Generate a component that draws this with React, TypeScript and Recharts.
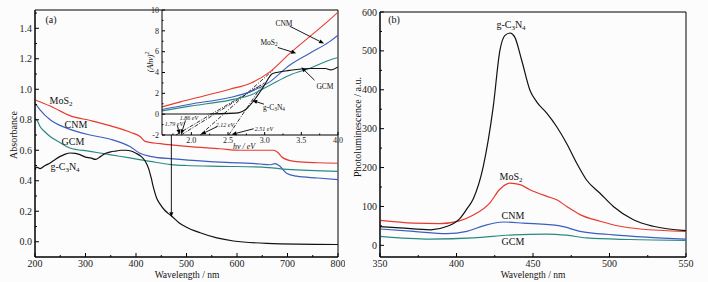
import React from 'react';
import { LineChart, Line, XAxis, YAxis, ReferenceLine, ReferenceArea } from 'recharts';

// ---- (a) UV-vis absorbance ----
const mos2Wl = [200, 230, 270, 310, 350, 390, 408, 418, 448, 500, 566, 606, 646, 672, 681, 691, 718, 760, 800];
const mos2Abs = [0.93, 0.89, 0.826, 0.795, 0.76, 0.717, 0.69, 0.658, 0.643, 0.625, 0.61, 0.6, 0.6, 0.6, 0.585, 0.55, 0.525, 0.518, 0.515];

const cnmWl = [200, 210, 230, 263, 309, 348, 388, 408, 428, 474, 540, 606, 646, 665, 675, 685, 698, 718, 760, 800];
const cnmAbs = [0.91, 0.865, 0.8, 0.745, 0.7, 0.674, 0.625, 0.58, 0.56, 0.543, 0.527, 0.517, 0.51, 0.505, 0.512, 0.495, 0.45, 0.43, 0.418, 0.407];

const gcmWl = [200, 205, 210, 220, 230, 250, 269, 309, 348, 388, 428, 470, 500, 566, 650, 700, 800];
const gcmAbs = [0.81, 0.79, 0.756, 0.72, 0.69, 0.65, 0.615, 0.593, 0.571, 0.55, 0.527, 0.506, 0.5, 0.495, 0.49, 0.475, 0.462];

const gcnWl = [200, 203, 210, 220, 230, 240, 250, 260, 270, 280, 290, 300, 310, 320, 330, 340, 350, 360, 370, 380, 390, 400, 410, 418, 425, 430, 435, 441, 448, 456, 463, 471, 485, 500, 527, 560, 593, 659, 800];
const gcnAbs = [0.47, 0.49, 0.48, 0.5, 0.517, 0.54, 0.56, 0.575, 0.582, 0.58, 0.57, 0.555, 0.55, 0.54, 0.56, 0.58, 0.59, 0.595, 0.6, 0.6, 0.595, 0.58, 0.56, 0.53, 0.48, 0.42, 0.35, 0.285, 0.245, 0.21, 0.188, 0.167, 0.125, 0.095, 0.059, 0.025, 0.005, -0.01, -0.018];

// ---- inset: (Ahv)^2 vs hv ----
const mos2Ev = [1.6, 1.85, 2.21, 2.525, 2.8, 3.07, 3.34, 3.61, 3.88, 4.0];
const mos2Tauc = [0.7, 1.18, 1.82, 2.4, 2.95, 4.06, 5.82, 7.42, 9.02, 9.8];
const cnmEv = [1.6, 1.98, 2.525, 2.8, 3.07, 3.34, 3.61, 3.88, 4.0];
const cnmTauc = [0.45, 0.96, 1.6, 2.14, 3.1, 4.7, 5.83, 6.94, 7.58];
const gcmEv = [1.6, 1.98, 2.525, 2.8, 3.07, 3.34, 3.61, 3.88, 4.0];
const gcmTauc = [0.32, 0.77, 1.35, 1.82, 2.78, 3.74, 4.39, 5.18, 5.44];
const gcnEv = [1.6, 2.2, 2.6, 2.75, 2.89, 2.98, 3.11, 3.34, 3.61, 3.83, 3.9, 4.0];
const gcnTauc = [0.02, 0.02, 0.1, 0.5, 1.66, 2.6, 3.9, 4.2, 4.39, 4.39, 4.25, 4.54];

// tangent extrapolations [x1, y1, x2, y2]
const tangents = [
  [1.79, -2, 2.95, 2.8],
  [1.86, -2, 3.0, 3.0],
  [2.12, -2, 3.11, 4.2],
  [2.51, -2, 2.95, 2.6],
];
// annotation arrows in inset [x1, y1, x2, y2]
const insetArrows = [
  [3.34, 8.45, 3.81, 6.78],
  [3.18, 6.4, 3.43, 5.85],
  [3.68, 3.26, 3.5, 4.5],
  [2.99, 0.96, 2.83, 1.32],
  [1.81, -1.1, 1.84, -1.95],
  [1.92, -0.6, 1.86, -1.95],
  [2.35, -1.2, 2.13, -1.95],
  [2.85, -1.4, 2.55, -1.95],
];
const gapLabels = ['1.79 eV', '1.86 eV', '2.12 eV', '2.51 eV'];

// ---- (b) photoluminescence ----
const gcnPlWl = [350, 363, 383, 394, 402, 407, 411, 417.5, 424, 428.4, 431.7, 435, 438, 442.6, 448, 452.4, 459, 465.5, 472, 478.6, 485, 493.8, 502.5, 515.6, 528.6, 550];
const gcnPl = [48, 45, 40, 49, 68, 95, 120, 203, 356, 502, 540, 546, 536, 476, 399, 369, 340, 305, 262, 211, 168, 134, 100, 66, 49, 38];
const mos2PlWl = [350, 372, 389, 402, 411, 422, 428, 435, 441.5, 448, 459, 465.5, 472, 480.7, 493.8, 507, 520, 550];
const mos2Pl = [64, 57, 56, 63, 78, 110, 143, 160, 156, 143, 126, 117, 100, 79, 62, 49, 42, 36];
const cnmPlWl = [350, 372, 393.6, 406.7, 417.5, 430.6, 443.7, 467.6, 480.7, 502.5, 524, 550];
const cnmPl = [42, 36, 30, 36, 50, 60, 57, 50, 36, 27, 21, 16];
const gcmPlWl = [350, 382.7, 411, 437, 459, 472, 485, 513, 550];
const gcmPl = [23, 16, 19, 27, 29, 26, 19, 15, 13];

// ticks
const absXTicks = [200, 250, 300, 350, 400, 450, 500, 550, 600, 650, 700, 750, 800];
const absXMajor = [200, 300, 400, 500, 600, 700, 800];
const absYTicks = [0, 0.1, 0.2, 0.3, 0.4, 0.5, 0.6, 0.7, 0.8, 0.9, 1.0, 1.1, 1.2, 1.3, 1.4, 1.5];
const absYMajor = [0, 0.2, 0.4, 0.6, 0.8, 1.0, 1.2, 1.4];
const insXTicks = [1.75, 2.0, 2.25, 2.5, 2.75, 3.0, 3.25, 3.5, 3.75, 4.0];
const insXMajor = [2.0, 2.5, 3.0, 3.5, 4.0];
const insYTicks = [-2, -1, 0, 1, 2, 3, 4, 5, 6, 7, 8, 9, 10];
const insYMajor = [-2, 0, 2, 4, 6, 8, 10];
const plXTicks = [350, 375, 400, 425, 450, 475, 500, 525, 550];
const plXMajor = [350, 400, 450, 500, 550];
const plYTicks = [0, 50, 100, 150, 200, 250, 300, 350, 400, 450, 500, 550, 600];
const plYMajor = [0, 100, 200, 300, 400, 500, 600];

const RED = '#e8392f';
const BLUE = '#3b5fbd';
const TEAL = '#2a8a80';
const BLACK = '#111';
const FONT = '"Liberation Serif", "DejaVu Serif", serif';

const pts = (xs: number[], ys: number[]) => xs.map((x, i) => ({ x, y: ys[i] }));

const isIn = (arr: number[], v: number) => arr.some((m) => Math.abs(m - v) < 1e-9);

const bottomTick = (majors: number[], fmt: (v: number) => string, size: number, len: number) => (p: any) => {
  const v = p.payload.value;
  const major = isIn(majors, v);
  return (
    <g>
      <line x1={p.x} y1={p.y} x2={p.x} y2={p.y - (major ? len : len / 2)} stroke="#000" />
      {major && (
        <text x={p.x} y={p.y + size} textAnchor="middle" fontSize={size} fontFamily={FONT} fill="#222">
          {fmt(v)}
        </text>
      )}
    </g>
  );
};

const leftTick = (majors: number[], fmt: (v: number) => string, size: number, len: number) => (p: any) => {
  const v = p.payload.value;
  const major = isIn(majors, v);
  return (
    <g>
      <line x1={p.x} y1={p.y} x2={p.x + (major ? len : len / 2)} y2={p.y} stroke="#000" />
      {major && (
        <text x={p.x - 3} y={p.y} dy="0.35em" textAnchor="end" fontSize={size} fontFamily={FONT} fill="#222">
          {fmt(v)}
        </text>
      )}
    </g>
  );
};

const Arrow = (p: any) => {
  const { x1, y1, x2, y2 } = p;
  const a = Math.atan2(y2 - y1, x2 - x1);
  const L = 5;
  const W = 2;
  const bx = x2 - L * Math.cos(a);
  const by = y2 - L * Math.sin(a);
  const nx = -Math.sin(a) * W;
  const ny = Math.cos(a) * W;
  return (
    <g>
      <line x1={x1} y1={y1} x2={bx} y2={by} stroke="#000" strokeWidth={0.9} />
      <polygon points={`${x2},${y2} ${bx + nx},${by + ny} ${bx - nx},${by - ny}`} fill="#000" />
    </g>
  );
};

const Lbl = ({ x, y, size = 10, italic = false, rotate = false, children }: any) => (
  <div
    style={{
      position: 'absolute',
      left: x,
      top: y,
      fontSize: size,
      lineHeight: 1,
      whiteSpace: 'nowrap',
      fontFamily: FONT,
      fontStyle: italic ? 'italic' : 'normal',
      color: '#111',
      transform: `translate(-50%, -50%)${rotate ? ' rotate(-90deg)' : ''}`,
    }}
  >
    {children}
  </div>
);

const sub = { fontSize: '0.7em', verticalAlign: '-0.25em' } as const;

export default function App() {
  return (
    <div style={{ position: 'absolute', left: 0, top: 0, width: 708, height: 282, background: '#fcfcfc', overflow: 'hidden' }}>
      {/* panel (a) */}
      <div style={{ position: 'absolute', left: 0, top: 0 }}>
        <LineChart width={345} height={282} margin={{ top: 10, right: 7, bottom: 0, left: 0 }}>
          <XAxis
            type="number"
            dataKey="x"
            domain={[200, 800]}
            ticks={absXTicks}
            interval={0}
            height={25}
            tickSize={0}
            tickMargin={0}
            tickLine={false}
            axisLine={{ stroke: '#000' }}
            tick={bottomTick(absXMajor, (v) => String(v), 10, 4)}
            allowDataOverflow
          />
          <YAxis
            type="number"
            dataKey="y"
            domain={[-0.1, 1.52]}
            ticks={absYTicks}
            interval={0}
            width={35}
            tickSize={0}
            tickMargin={0}
            tickLine={false}
            axisLine={{ stroke: '#000' }}
            tick={leftTick(absYMajor, (v) => v.toFixed(1), 10, 4)}
            allowDataOverflow
          />
          <ReferenceArea x1={200} x2={800} y1={-0.1} y2={1.52} fill="none" stroke="#000" ifOverflow="visible" />
          <Line data={pts(mos2Wl, mos2Abs)} dataKey="y" type="monotone" stroke={RED} strokeWidth={1.2} dot={false} isAnimationActive={false} />
          <Line data={pts(cnmWl, cnmAbs)} dataKey="y" type="monotone" stroke={BLUE} strokeWidth={1.2} dot={false} isAnimationActive={false} />
          <Line data={pts(gcmWl, gcmAbs)} dataKey="y" type="monotone" stroke={TEAL} strokeWidth={1.2} dot={false} isAnimationActive={false} />
          <Line data={pts(gcnWl, gcnAbs)} dataKey="y" type="monotone" stroke={BLACK} strokeWidth={1.2} dot={false} isAnimationActive={false} />
          <ReferenceLine segment={[{ x: 470, y: 0.7 }, { x: 470, y: 0.16 }]} ifOverflow="visible" shape={Arrow} />
        </LineChart>
      </div>

      {/* inset */}
      <div style={{ position: 'absolute', left: 122, top: 0 }}>
        <LineChart width={228} height={150} margin={{ top: 10, right: 12, bottom: 0, left: 0 }}>
          <XAxis
            type="number"
            dataKey="x"
            domain={[1.6, 4.0]}
            ticks={insXTicks}
            interval={0}
            height={15}
            tickSize={0}
            tickMargin={0}
            tickLine={false}
            axisLine={{ stroke: '#000' }}
            tick={bottomTick(insXMajor, (v) => v.toFixed(1), 8, 3)}
            allowDataOverflow
          />
          <YAxis
            type="number"
            dataKey="y"
            domain={[-2, 10]}
            ticks={insYTicks}
            interval={0}
            width={40}
            tickSize={0}
            tickMargin={0}
            tickLine={false}
            axisLine={{ stroke: '#000' }}
            tick={leftTick(insYMajor, (v) => String(v), 8, 3)}
            allowDataOverflow
          />
          {tangents.map((t, i) => (
            <ReferenceLine
              key={`t${i}`}
              segment={[{ x: t[0], y: t[1] }, { x: t[2], y: t[3] }]}
              stroke="#000"
              strokeWidth={0.8}
              strokeDasharray="4 1.5 1 1.5"
              ifOverflow="visible"
            />
          ))}
          <Line data={pts(mos2Ev, mos2Tauc)} dataKey="y" type="monotone" stroke={RED} strokeWidth={1.1} dot={false} isAnimationActive={false} />
          <Line data={pts(cnmEv, cnmTauc)} dataKey="y" type="monotone" stroke={BLUE} strokeWidth={1.1} dot={false} isAnimationActive={false} />
          <Line data={pts(gcmEv, gcmTauc)} dataKey="y" type="monotone" stroke={TEAL} strokeWidth={1.1} dot={false} isAnimationActive={false} />
          <Line data={pts(gcnEv, gcnTauc)} dataKey="y" type="monotone" stroke={BLACK} strokeWidth={1.1} dot={false} isAnimationActive={false} />
          {insetArrows.map((a, i) => (
            <ReferenceLine key={`a${i}`} segment={[{ x: a[0], y: a[1] }, { x: a[2], y: a[3] }]} ifOverflow="visible" shape={Arrow} />
          ))}
        </LineChart>
      </div>

      {/* panel (b) */}
      <div style={{ position: 'absolute', left: 340, top: 0 }}>
        <LineChart width={368} height={282} margin={{ top: 12, right: 22, bottom: 0, left: 0 }}>
          <XAxis
            type="number"
            dataKey="x"
            domain={[350, 550]}
            ticks={plXTicks}
            interval={0}
            height={25}
            tickSize={0}
            tickMargin={0}
            tickLine={false}
            axisLine={{ stroke: '#000' }}
            tick={bottomTick(plXMajor, (v) => String(v), 10, 4)}
            allowDataOverflow
          />
          <YAxis
            type="number"
            dataKey="y"
            domain={[-30, 600]}
            ticks={plYTicks}
            interval={0}
            width={40}
            tickSize={0}
            tickMargin={0}
            tickLine={false}
            axisLine={{ stroke: '#000' }}
            tick={leftTick(plYMajor, (v) => String(v), 10, 4)}
            allowDataOverflow
          />
          <ReferenceArea x1={350} x2={550} y1={-30} y2={600} fill="none" stroke="#000" ifOverflow="visible" />
          <Line data={pts(gcmPlWl, gcmPl)} dataKey="y" type="monotone" stroke={TEAL} strokeWidth={1.2} dot={false} isAnimationActive={false} />
          <Line data={pts(cnmPlWl, cnmPl)} dataKey="y" type="monotone" stroke={BLUE} strokeWidth={1.2} dot={false} isAnimationActive={false} />
          <Line data={pts(mos2PlWl, mos2Pl)} dataKey="y" type="monotone" stroke={RED} strokeWidth={1.2} dot={false} isAnimationActive={false} />
          <Line data={pts(gcnPlWl, gcnPl)} dataKey="y" type="monotone" stroke={BLACK} strokeWidth={1.2} dot={false} isAnimationActive={false} />
        </LineChart>
      </div>

      {/* text annotations */}
      <Lbl x={51} y={20}>(a)</Lbl>
      <Lbl x={14} y={135} rotate>Absorbance</Lbl>
      <Lbl x={187} y={276} size={9.5}>Wavelength / nm</Lbl>
      <Lbl x={61} y={102}>MoS<span style={sub}>2</span></Lbl>
      <Lbl x={76} y={125}>CNM</Lbl>
      <Lbl x={73} y={142}>GCM</Lbl>
      <Lbl x={65} y={168}>g-C<span style={sub}>3</span>N<span style={sub}>4</span></Lbl>

      <Lbl x={150} y={62} size={8} italic rotate>(Ahν)<sup style={{ fontSize: '0.7em' }}>2</sup></Lbl>
      <Lbl x={244} y={147} size={8} italic>hν / eV</Lbl>
      <Lbl x={284} y={24} size={7.5}>CNM</Lbl>
      <Lbl x={269} y={43} size={7.5}>MoS<span style={sub}>2</span></Lbl>
      <Lbl x={325} y={87} size={7.5}>GCM</Lbl>
      <Lbl x={274} y={108} size={7.5}>g-C<span style={sub}>3</span>N<span style={sub}>4</span></Lbl>
      <Lbl x={174} y={124} size={6} italic>{gapLabels[0]}</Lbl>
      <Lbl x={189} y={118} size={6} italic>{gapLabels[1]}</Lbl>
      <Lbl x={225} y={125} size={6} italic>{gapLabels[2]}</Lbl>
      <Lbl x={264} y={129} size={6} italic>{gapLabels[3]}</Lbl>

      <Lbl x={394} y={20}>(b)</Lbl>
      <Lbl x={358} y={127} rotate>Photoluminescence / a.u.</Lbl>
      <Lbl x={533} y={276} size={9.5}>Wavelength / nm</Lbl>
      <Lbl x={511} y={26}>g-C<span style={sub}>3</span>N<span style={sub}>4</span></Lbl>
      <Lbl x={511} y={178}>MoS<span style={sub}>2</span></Lbl>
      <Lbl x={513} y={216}>CNM</Lbl>
      <Lbl x={513} y={242}>GCM</Lbl>
    </div>
  );
}
